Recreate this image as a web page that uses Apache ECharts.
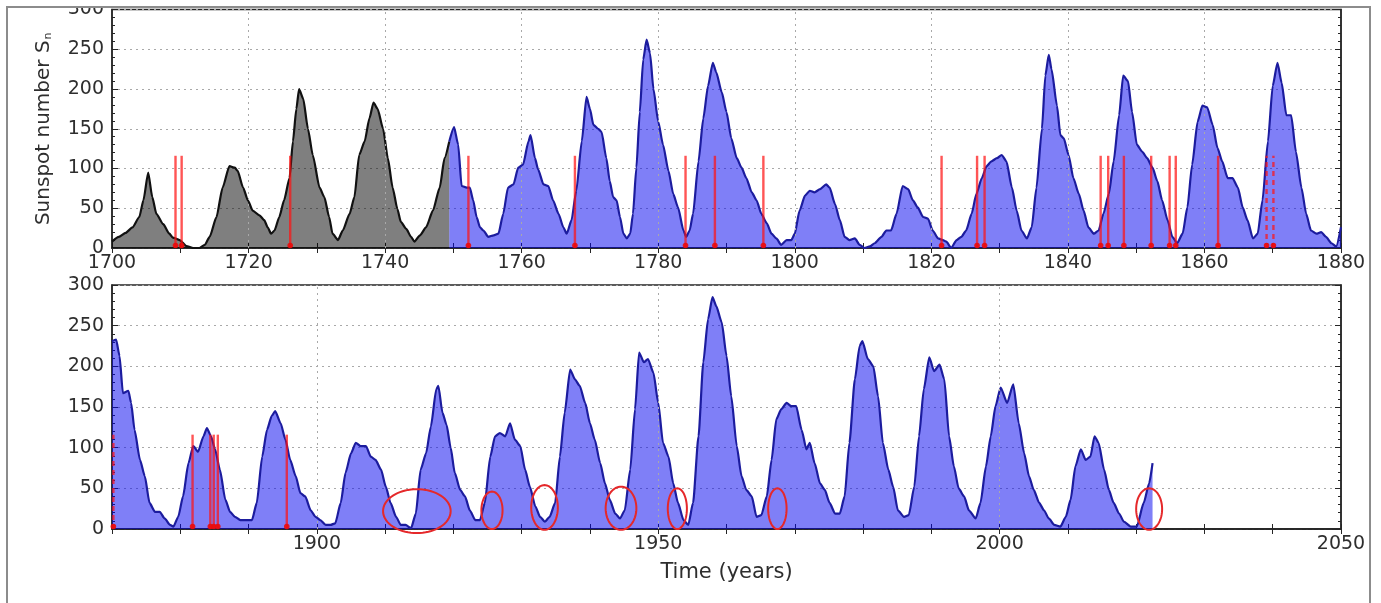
<!DOCTYPE html>
<html>
<head>
<meta charset="utf-8">
<script src="https://cdn.jsdelivr.net/npm/echarts@6/dist/echarts.min.js"></script>
<style>
  html, body { margin: 0; padding: 0; background: #ffffff; }
  #chart { width: 1381px; height: 603px; }
</style>
</head>
<body>
<div id="chart"></div>
<script>
// Smoothed sunspot number, early reconstructed part (1700-1749), [year, Sn]
const earlySeries = [
  [1700.0,8],[1701.0,14],[1702.0,19],[1703.0,26],[1704.0,39],[1704.6,60],[1705.3,95],[1705.9,64],
  [1706.5,43],[1707.5,30],[1708.4,18],[1708.9,13],[1709.9,10],[1710.9,2.5],[1711.9,0],[1712.8,0],
  [1713.6,4],[1714.3,14],[1715.3,39],[1716.2,76],[1717.2,103],[1718.0,101],[1718.4,97],[1719.2,76],
  [1719.9,60],[1720.6,47],[1721.6,41],[1722.3,35],[1722.8,26],[1723.3,18],[1723.8,22],[1724.5,39],
  [1725.2,60],[1726.0,88],[1726.5,134],[1727.0,175],[1727.4,200],[1728.0,188],[1728.7,150],[1729.4,117],
  [1730.4,76],[1731.1,64],[1731.8,39],[1732.3,18],[1733.1,10],[1733.8,22],[1734.8,43],[1735.5,64],
  [1736.2,117],[1737.0,134],[1737.7,163],[1738.3,183],[1738.9,175],[1739.7,150],[1740.4,113],[1741.1,76],
  [1741.8,49],[1742.3,33],[1743.1,24],[1743.8,14],[1744.3,8],[1745.1,16],[1746.0,26],[1747.0,47],
  [1748.0,76],[1748.7,113],[1749.4,134]
];

// Smoothed sunspot number 1749-1880, [year, Sn]
const upperSeries = [
  [1749.4,134],[1750.1,152],[1750.7,130],[1751.2,78],[1751.95,76],[1752.4,76],[1752.9,60],[1753.4,39],
  [1753.9,26],[1754.4,22],[1755.1,14],[1755.9,16],[1756.6,18],[1757.3,43],[1758.0,76],[1758.8,80],
  [1759.5,101],[1760.2,105],[1761.0,134],[1761.3,142],[1761.95,113],[1762.4,99],[1763.2,80],[1763.9,78],
  [1764.6,60],[1765.4,43],[1766.1,26],[1766.6,18],[1767.3,35],[1768.0,72],[1768.8,134],[1769.5,190],
  [1770.0,175],[1770.5,155],[1771.2,150],[1771.7,146],[1772.4,113],[1772.9,84],[1773.4,64],[1773.9,60],
  [1774.4,39],[1774.9,18],[1775.4,12],[1775.9,18],[1776.3,43],[1776.8,101],[1777.3,171],[1777.8,237],
  [1778.3,262],[1778.8,245],[1779.3,200],[1780.0,159],[1780.7,130],[1781.5,97],[1782.2,68],[1782.9,51],
  [1783.7,22],[1784.1,14],[1784.6,22],[1785.1,43],[1785.9,109],[1786.6,163],[1787.3,204],[1788.0,233],
  [1788.5,221],[1789.3,196],[1790.0,171],[1790.7,138],[1791.5,113],[1792.2,101],[1792.9,88],[1793.7,70],
  [1794.4,60],[1795.1,43],[1795.9,31],[1796.6,18],[1797.3,12],[1798.0,4],[1798.8,10],[1799.5,10],
  [1800.0,18],[1800.7,47],[1801.5,66],[1802.2,72],[1802.9,70],[1803.7,74],[1804.6,80],[1805.1,76],
  [1805.9,55],[1806.6,35],[1807.3,14],[1808.0,10],[1808.8,12],[1809.5,4],[1810.2,0],[1811.0,2],
  [1811.7,6],[1812.7,14],[1813.4,22],[1814.1,22],[1814.9,43],[1815.8,78],[1816.6,74],[1817.3,60],
  [1818.0,51],[1818.8,39],[1819.5,37],[1820.2,22],[1821.0,12],[1821.7,10],[1822.2,8],[1822.9,0],
  [1823.7,10],[1824.4,14],[1825.1,22],[1825.9,43],[1826.6,68],[1827.4,88],[1828.1,103],[1828.8,109],
  [1829.6,113],[1830.3,117],[1831.0,109],[1831.8,76],[1832.5,47],[1833.2,22],[1834.0,12],[1834.7,26],
  [1835.4,76],[1836.2,150],[1836.7,217],[1837.2,243],[1837.6,225],[1838.4,179],[1838.9,142],[1839.4,138],
  [1840.1,117],[1840.8,88],[1841.6,68],[1842.3,47],[1843.0,26],[1843.8,18],[1844.5,22],[1845.2,43],
  [1846.0,68],[1846.7,109],[1847.5,167],[1848.1,217],[1848.8,210],[1849.4,171],[1850.1,130],[1850.9,121],
  [1851.6,113],[1852.4,101],[1853.1,84],[1853.8,60],[1854.6,35],[1855.3,14],[1856.0,6],[1856.8,18],
  [1857.5,51],[1858.2,105],[1859.0,159],[1859.7,179],[1860.4,177],[1861.2,155],[1861.9,126],[1862.6,109],
  [1863.4,88],[1864.1,88],[1864.9,76],[1865.6,51],[1866.3,35],[1867.1,12],[1867.8,18],[1868.5,60],
  [1869.3,134],[1870.0,204],[1870.7,233],[1871.3,208],[1872.0,167],[1872.7,167],[1873.4,121],[1874.2,76],
  [1874.9,43],[1875.6,22],[1876.4,18],[1877.1,20],[1877.8,14],[1878.6,6],[1879.3,2],[1880.0,26]
];

// Smoothed sunspot number 1870-2022, [year, Sn]
const lowerSeries = [
  [1870.0,231],[1870.6,233],[1871.1,213],[1871.6,167],[1872.4,170],[1872.8,155],[1873.3,122],[1874.1,85],
  [1874.8,65],[1875.5,32],[1876.3,21],[1877.0,21],[1877.7,13],[1878.5,5],[1879.0,3],[1879.7,15],
  [1880.4,40],[1881.2,81],[1881.9,102],[1882.6,95],[1883.4,114],[1883.9,124],[1884.5,114],[1885.1,98],
  [1885.8,73],[1886.6,36],[1887.3,21],[1888.0,15],[1888.8,11],[1889.8,11],[1890.5,11],[1891.2,32],
  [1892.0,89],[1892.7,122],[1893.4,139],[1893.9,145],[1894.7,130],[1895.4,110],[1896.1,85],[1896.9,65],
  [1897.6,44],[1898.3,40],[1899.1,23],[1899.8,15],[1900.5,11],[1901.3,5],[1902.0,5],[1902.7,7],
  [1903.5,32],[1904.2,69],[1905.0,93],[1905.7,106],[1906.4,102],[1907.2,102],[1907.9,89],[1908.6,85],
  [1909.4,73],[1910.1,52],[1910.8,32],[1911.6,15],[1912.3,5],[1913.0,5],[1913.8,1],[1914.5,19],
  [1915.2,73],[1916.0,93],[1916.7,126],[1917.5,172],[1917.8,176],[1918.4,143],[1919.0,128],[1919.6,100],
  [1920.2,69],[1921.0,48],[1921.7,40],[1922.4,23],[1923.2,11],[1923.9,11],[1924.6,32],[1925.4,89],
  [1926.1,114],[1926.8,118],[1927.6,114],[1928.3,130],[1929.0,110],[1929.8,102],[1930.5,73],[1931.2,52],
  [1932.0,28],[1932.7,15],[1933.4,9],[1934.1,15],[1934.9,32],[1935.6,89],[1936.3,143],[1937.1,196],
  [1937.8,184],[1938.5,176],[1939.3,155],[1940.0,130],[1940.7,110],[1941.5,81],[1942.2,56],[1942.9,36],
  [1943.7,19],[1944.4,13],[1945.1,23],[1945.9,73],[1946.6,147],[1947.2,217],[1947.9,205],[1948.5,209],
  [1949.3,192],[1950.0,155],[1950.7,106],[1951.5,89],[1952.2,56],[1952.9,32],[1953.7,11],[1954.4,5],
  [1955.1,32],[1955.9,114],[1956.6,205],[1957.3,258],[1957.95,285],[1958.5,274],[1959.3,254],[1960.0,213],
  [1960.7,163],[1961.5,102],[1962.2,65],[1962.9,48],[1963.7,40],[1964.4,15],[1965.1,17],[1965.9,40],
  [1966.6,85],[1967.3,135],[1968.0,147],[1968.8,155],[1969.5,151],[1970.2,151],[1971.0,122],[1971.7,98],
  [1972.2,106],[1972.9,81],[1973.7,56],[1974.4,48],[1975.1,32],[1975.9,19],[1976.6,19],[1977.3,40],
  [1978.0,106],[1978.8,184],[1979.5,225],[1979.9,231],[1980.7,209],[1981.5,200],[1982.2,163],[1982.9,106],
  [1983.7,73],[1984.4,52],[1985.1,23],[1986.0,15],[1986.7,17],[1987.5,52],[1988.2,114],[1988.9,172],
  [1989.7,211],[1990.4,194],[1991.2,202],[1991.9,184],[1992.6,114],[1993.3,77],[1994.0,50],[1994.8,40],
  [1995.5,23],[1996.5,13],[1997.2,32],[1998.0,77],[1998.7,114],[1999.4,151],[2000.15,174],[2001.1,155],
  [2002.0,178],[2002.8,130],[2003.6,93],[2004.3,65],[2005.0,48],[2005.8,32],[2006.5,23],[2007.2,13],
  [2008.0,5],[2008.9,3],[2009.7,15],[2010.4,36],[2011.1,77],[2011.9,98],[2012.6,85],[2013.3,89],
  [2013.9,114],[2014.5,106],[2015.3,73],[2016.0,48],[2016.7,32],[2017.5,19],[2018.2,9],[2019.2,3],
  [2020.1,3],[2021.1,32],[2021.9,56],[2022.4,81]
];

// Event markers (years), drawn as vertical bars up to markerLevel
const markerLevel = 116;
const upperMarkers = [1709.3, 1710.2, 1726.1, 1752.2, 1767.8, 1784.0, 1788.3, 1795.4, 1821.5,
  1826.7, 1827.8, 1844.8, 1845.9, 1848.2, 1852.2, 1854.9, 1855.8, 1862.0];
const upperDashedMarkers = [1869.1, 1870.1];
const lowerMarkers = [1881.8, 1884.4, 1884.9, 1885.5, 1895.6];
const lowerDashedMarkers = [1870.2];

// Circled minima: [centre year, half width (years), lower Sn, upper Sn]
const circledMinima = [
  [1914.65, 4.95, -5, 49],
  [1925.65, 1.55, 0, 46],
  [1933.35, 1.95, -1, 54],
  [1944.55, 2.25, -1, 52],
  [1952.8, 1.4, 0, 50],
  [1967.45, 1.35, 0, 50],
  [2021.9, 1.9, -1, 50]
];

// Vertical grid positions
const upperGridYears = [1720, 1740, 1760, 1780, 1800, 1820, 1840, 1860];
const lowerGridYears = [1900, 1950, 2000];

const FONT = 'DejaVu Sans';
const TEXT = '#2e2e2e';
const FRAME = '#262626';
const DOT_GRID = { color: '#a9a9a9', type: [2, 4], width: 1 };

function xAxisDef(gridIndex, min, max, labelStep, extra) {
  return Object.assign({
    type: 'value', gridIndex, min, max, interval: 10, position: 'bottom',
    axisLine: { show: true, lineStyle: { color: FRAME, width: 1.5 } },
    axisTick: { show: true, inside: true, length: 5, lineStyle: { color: FRAME } },
    axisLabel: {
      show: true, fontFamily: FONT, fontSize: 19, color: TEXT, margin: 6,
      formatter: v => (Math.round(v) % labelStep === 0 ? String(Math.round(v)) : '')
    },
    splitLine: { show: false }
  }, extra || {});
}
function xMirror(gridIndex, min, max) {
  return {
    type: 'value', gridIndex, min, max, interval: 10, position: 'top',
    axisLine: { show: true, lineStyle: { color: FRAME, width: 1.5 } },
    axisTick: { show: true, inside: true, length: 5, lineStyle: { color: FRAME } },
    axisLabel: { show: false }, splitLine: { show: false }
  };
}
function yAxisDef(gridIndex, extra) {
  return Object.assign({
    type: 'value', gridIndex, min: 0, max: 300, interval: 50, position: 'left',
    axisLine: { show: true, lineStyle: { color: FRAME, width: 1.5 } },
    axisTick: { show: true, inside: true, length: 6, lineStyle: { color: FRAME } },
    minorTick: { show: true, splitNumber: 5, length: 3, lineStyle: { color: FRAME } },
    axisLabel: { show: true, fontFamily: FONT, fontSize: 19, color: TEXT, margin: 8 },
    splitLine: { show: true, lineStyle: DOT_GRID }
  }, extra || {});
}
function yMirror(gridIndex) {
  return {
    type: 'value', gridIndex, min: 0, max: 300, interval: 50, position: 'right',
    axisLine: { show: true, lineStyle: { color: FRAME, width: 1.5 } },
    axisTick: { show: true, inside: true, length: 6, lineStyle: { color: FRAME } },
    minorTick: { show: true, splitNumber: 5, length: 3, lineStyle: { color: FRAME } },
    axisLabel: { show: false }, splitLine: { show: false }
  };
}

function areaSeries(data, xi, yi, lineColor, fillColor, gridYears) {
  return {
    type: 'line', xAxisIndex: xi, yAxisIndex: yi, data,
    showSymbol: false, symbol: 'none', smooth: 0.2, smoothMonotone: 'x',
    lineStyle: { color: lineColor, width: 2.2 },
    areaStyle: { color: fillColor, opacity: 1 },
    z: 2,
    markLine: gridYears ? {
      silent: true, symbol: 'none', label: { show: false },
      lineStyle: DOT_GRID, animation: false,
      data: gridYears.map(y => ({ xAxis: y }))
    } : undefined
  };
}

function markerSeries(years, xi, yi, dashed) {
  return {
    type: 'custom', xAxisIndex: xi, yAxisIndex: yi, z: 5, clip: false,
    data: years.map(y => [y, markerLevel]),
    renderItem: (params, api) => {
      const base = api.coord([api.value(0), 0]);
      const top = api.coord([api.value(0), api.value(1)]);
      return {
        type: 'group',
        children: [
          { type: 'line', shape: { x1: base[0], y1: base[1], x2: top[0], y2: top[1] },
            style: { stroke: 'rgba(255,20,20,0.72)', lineWidth: 2.4, lineDash: dashed ? [5, 4] : null } },
          { type: 'circle', shape: { cx: base[0], cy: base[1] - 2.5, r: 2.8 },
            style: { fill: 'rgba(235,10,10,0.9)' } }
        ]
      };
    }
  };
}

function ellipseSeries(items, xi, yi) {
  return {
    type: 'custom', xAxisIndex: xi, yAxisIndex: yi, z: 6, clip: false,
    data: items,
    renderItem: (params, api) => {
      const cx = api.value(0), hw = api.value(1), lo = api.value(2), hi = api.value(3);
      const c = api.coord([cx, (lo + hi) / 2]);
      const r = api.coord([cx + hw, (lo + hi) / 2]);
      const t = api.coord([cx, hi]);
      const rx = Math.abs(r[0] - c[0]), ry = Math.abs(c[1] - t[1]);
      const pts = [];
      for (let k = 0; k < 72; k++) {
        const a = (k / 72) * Math.PI * 2;
        pts.push([c[0] + rx * Math.cos(a), c[1] + ry * Math.sin(a)]);
      }
      return { type: 'polygon', shape: { points: pts },
        style: { fill: 'none', stroke: '#e5282a', lineWidth: 2 } };
    }
  };
}

const chart = echarts.init(document.getElementById('chart'), null, { renderer: 'canvas' });
chart.setOption({
  animation: false,
  backgroundColor: '#ffffff',
  textStyle: { fontFamily: FONT },
  grid: [
    { left: 112, top: 7, width: 1229, height: 241, show: true, borderColor: FRAME, borderWidth: 1.5, backgroundColor: 'transparent' },
    { left: 112, top: 285, width: 1229, height: 244, show: true, borderColor: FRAME, borderWidth: 1.5, backgroundColor: 'transparent' }
  ],
  xAxis: [
    xAxisDef(0, 1700, 1880, 20),
    xAxisDef(1, 1870, 2050, 50, {
      name: 'Time (years)', nameLocation: 'middle', nameGap: 33,
      nameTextStyle: { fontFamily: FONT, fontSize: 21, color: TEXT }
    }),
    xMirror(0, 1700, 1880),
    xMirror(1, 1870, 2050)
  ],
  yAxis: [
    yAxisDef(0, {
      name: 'Sunspot number S{sub|n}', nameLocation: 'middle', nameGap: 58, nameRotate: 90,
      nameTextStyle: { fontFamily: FONT, fontSize: 20, color: TEXT,
        rich: { sub: { fontFamily: FONT, fontSize: 11, color: TEXT, verticalAlign: 'bottom', padding: [8, 0, 0, 1] } } }
    }),
    yAxisDef(1),
    yMirror(0),
    yMirror(1)
  ],
  series: [
    areaSeries(earlySeries, 0, 0, '#111111', 'rgba(0,0,0,0.5)', null),
    areaSeries(upperSeries, 0, 0, '#1c1c9e', 'rgba(0,0,240,0.5)', upperGridYears),
    areaSeries(lowerSeries, 1, 1, '#1c1c9e', 'rgba(0,0,240,0.5)', lowerGridYears),
    markerSeries(upperMarkers, 0, 0, false),
    markerSeries(upperDashedMarkers, 0, 0, true),
    markerSeries(lowerMarkers, 1, 1, false),
    markerSeries(lowerDashedMarkers, 1, 1, true),
    ellipseSeries(circledMinima, 1, 1)
  ],
  graphic: [
    { type: 'rect', z: 100, shape: { x: 0, y: 0, width: 1381, height: 6 }, style: { fill: '#ffffff' } },
    { type: 'rect', z: 101, shape: { x: 7, y: 7, width: 1363, height: 620 },
      style: { fill: 'none', stroke: '#8c8c8c', lineWidth: 2 } }
  ]
});
</script>
</body>
</html>
